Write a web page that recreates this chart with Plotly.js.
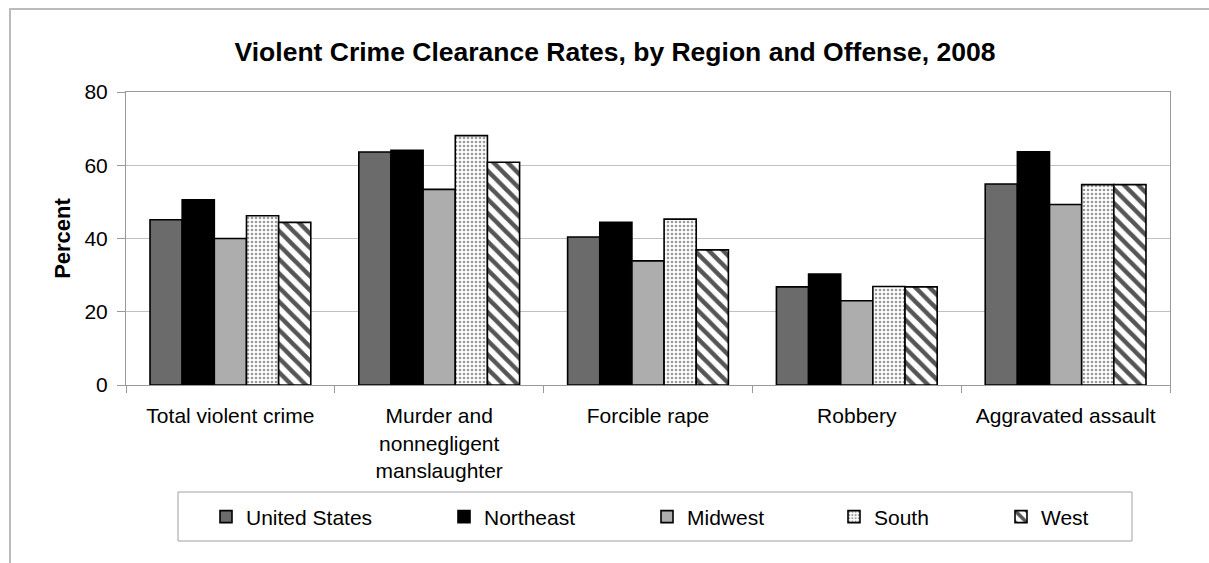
<!DOCTYPE html>
<html>
<head>
<meta charset="utf-8">
<script src="https://cdn.plot.ly/plotly-3.0.1.min.js"></script>
<style>
  body { margin: 0; background: #fff; }
  #chart { width: 1209px; height: 563px; }
</style>
</head>
<body>
<div id="chart"></div>
<script>
// categories and series (percent cleared)
const offenses = ['Total violent crime', 'Murder and<br>nonnegligent<br>manslaughter', 'Forcible rape', 'Robbery', 'Aggravated assault'];
const regions = ['United States', 'Northeast', 'Midwest', 'South', 'West'];
const unitedStates = [45.1, 63.6, 40.4, 26.8, 54.9];
const northeast = [50.6, 64.1, 44.4, 30.3, 63.7];
const midwest = [40.0, 53.4, 33.9, 23.0, 49.3];
const south = [46.2, 68.1, 45.3, 26.9, 54.7];
const west = [44.4, 60.8, 36.9, 26.8, 54.7];

// plot area in pixels, used to place legend entries like the excel legend
const plotL = 126, plotR = 1170;
const legendTextX = [245, 483, 686, 873, 1040];

function barTrace(i, y, color, pattern) {
  var t = {
    name: regions[i],
    type: 'bar',
    x: offenses,
    y: y,
    legend: i === 0 ? 'legend' : 'legend' + (i + 1),
    marker: {
      color: color,
      line: { color: '#000', width: 1.6 }
    }
  };
  if (pattern) t.marker.pattern = pattern;
  return t;
}

var data = [
  barTrace(0, unitedStates, '#6b6b6b'),
  barTrace(1, northeast, '#000000'),
  barTrace(2, midwest, '#adadad'),
  barTrace(3, south, '#ffffff', { shape: '.', fgcolor: '#9a9a9a', bgcolor: '#ffffff', size: 4, solidity: 0.35 }),
  barTrace(4, west, '#ffffff', { shape: '\\', fgcolor: '#555555', bgcolor: '#ffffff', size: 10, solidity: 0.45 })
];

function legendAt(px) {
  return {
    orientation: 'h',
    xref: 'paper', x: (px - 39 - plotL) / (plotR - plotL), xanchor: 'left',
    yref: 'container', y: 1 - 517 / 563, yanchor: 'middle',
    bgcolor: 'rgba(0,0,0,0)',
    borderwidth: 0,
    font: { size: 21 }
  };
}

var layout = {
  width: 1209,
  height: 563,
  margin: { l: plotL, r: 1209 - plotR, t: 92, b: 178, autoexpand: false },
  paper_bgcolor: '#fff',
  plot_bgcolor: '#fff',
  font: { family: 'Liberation Sans, Arial, sans-serif', color: '#000', size: 21 },
  title: {
    text: '<b>Violent Crime Clearance Rates, by Region and Offense, 2008</b>',
    font: { size: 26.5 },
    xref: 'container', x: 0.5087, xanchor: 'center',
    yref: 'container', y: 1 - 52 / 563, yanchor: 'middle'
  },
  barmode: 'group',
  bargap: 0.23,
  bargroupgap: 0,
  xaxis: {
    showline: true, linecolor: '#999', mirror: true,
    ticks: 'outside', tickson: 'boundaries', ticklen: 7, tickcolor: '#999',
    ticklabelstandoff: 12,
    tickfont: { size: 21 }
  },
  yaxis: {
    range: [0, 80],
    dtick: 20,
    showline: true, linecolor: '#999', mirror: true,
    ticks: 'outside', ticklen: 8, tickcolor: '#999',
    ticklabelstandoff: 5,
    gridcolor: '#c0c0c0',
    zeroline: false,
    tickfont: { size: 21 },
    title: { text: '<b>Percent</b>', font: { size: 22 }, standoff: 7 }
  },
  showlegend: true,
  legend: legendAt(legendTextX[0]),
  legend2: legendAt(legendTextX[1]),
  legend3: legendAt(legendTextX[2]),
  legend4: legendAt(legendTextX[3]),
  legend5: legendAt(legendTextX[4]),
  shapes: [
    // legend box
    { type: 'rect', xref: 'paper', yref: 'paper',
      x0: (178 - plotL) / (plotR - plotL), x1: (1132 - plotL) / (plotR - plotL),
      y0: (385 - 541) / 293, y1: (385 - 492) / 293,
      line: { color: '#a0a0a0', width: 1 }, fillcolor: 'rgba(0,0,0,0)' },
    // outer chart frame (top and left edges)
    { type: 'line', xref: 'paper', yref: 'paper',
      x0: (9 - plotL) / (plotR - plotL), x1: (1209 - plotL) / (plotR - plotL),
      y0: (385 - 9) / 293, y1: (385 - 9) / 293,
      line: { color: '#bbb', width: 2 } },
    { type: 'line', xref: 'paper', yref: 'paper',
      x0: (10 - plotL) / (plotR - plotL), x1: (10 - plotL) / (plotR - plotL),
      y0: (385 - 9) / 293, y1: (385 - 563) / 293,
      line: { color: '#bbb', width: 2 } }
  ]
};

Plotly.newPlot('chart', data, layout, { displayModeBar: false });
</script>
</body>
</html>
